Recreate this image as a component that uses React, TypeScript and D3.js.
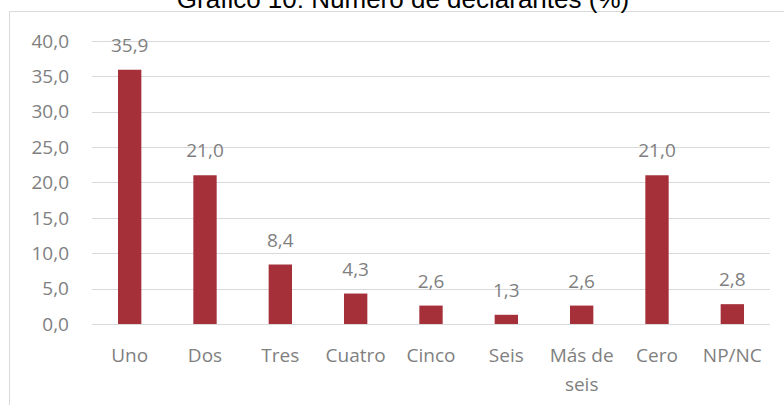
import React from "react";
import * as d3 from "d3";

const categories = ["Uno", "Dos", "Tres", "Cuatro", "Cinco", "Seis", "Más de seis", "Cero", "NP/NC"];
const values = [35.9, 21.0, 8.4, 4.3, 2.6, 1.3, 2.6, 21.0, 2.8];
const yTicks = [0, 5, 10, 15, 20, 25, 30, 35, 40];
const title = "Gráfico 10: Número de declarantes (%)";

const W = 784;
const H = 405;
const fontFamily = "'Open Sans', sans-serif";
const textColor = "#7f7f7f";
const gridColor = "#d9d9d9";
const barColor = "#a5303a";

const fmt = (v: number) => v.toFixed(1).replace(".", ",");

function wrapLabel(label: string): string[] {
  if (label === "Más de seis") return ["Más de", "seis"];
  return [label];
}

export default function App() {
  const x = d3
    .scaleBand<string>()
    .domain(categories)
    .range([92, 770])
    .paddingInner(0.69)
    .paddingOuter(0.345);
  const y = d3.scaleLinear().domain([0, 40]).range([324, 40.7]);

  return (
    <svg
      width={W}
      height={H}
      style={{ position: "absolute", left: 0, top: 0, background: "#fff" }}
    >
      <rect x={0} y={0} width={W} height={H} fill="#fff" />
      {/* frame */}
      <line x1={9.5} x2={W} y1={11.5} y2={11.5} stroke={gridColor} strokeWidth={1} />
      <line x1={9.5} x2={9.5} y1={11.5} y2={H} stroke={gridColor} strokeWidth={1} />
      {/* title */}
      <text
        x={403}
        y={7.5}
        textAnchor="middle"
        fontFamily="'Liberation Sans', Arial, sans-serif"
        fontSize={26}
        fill="#000"
      >
        {title}
      </text>
      {/* gridlines */}
      {yTicks.map((t) => (
        <line
          key={"g" + t}
          x1={92}
          x2={770}
          y1={Math.round(y(t)) + 0.5}
          y2={Math.round(y(t)) + 0.5}
          stroke={gridColor}
          strokeWidth={1}
        />
      ))}
      {/* y tick labels */}
      {yTicks.map((t) => (
        <text
          key={"t" + t}
          x={69}
          y={y(t)}
          dy="0.36em"
          textAnchor="end"
          fontFamily={fontFamily}
          fontSize={19}
          fill={textColor}
        >
          {fmt(t)}
        </text>
      ))}
      {/* bars */}
      {categories.map((c, i) => (
        <rect
          key={"b" + c}
          x={x(c)!}
          y={y(values[i])}
          width={x.bandwidth()}
          height={y(0) - y(values[i])}
          fill={barColor}
        />
      ))}
      {/* data labels */}
      {categories.map((c, i) => (
        <text
          key={"v" + c}
          x={x(c)! + x.bandwidth() / 2}
          y={y(values[i]) - 18}
          textAnchor="middle"
          fontFamily={fontFamily}
          fontSize={19}
          fill={textColor}
        >
          {fmt(values[i])}
        </text>
      ))}
      {/* category labels */}
      {categories.map((c) => (
        <text
          key={"c" + c}
          x={x(c)! + x.bandwidth() / 2}
          y={362}
          textAnchor="middle"
          fontFamily={fontFamily}
          fontSize={19}
          fill={textColor}
        >
          {wrapLabel(c).map((line, j) => (
            <tspan key={j} x={x(c)! + x.bandwidth() / 2} y={362 + j * 29}>
              {line}
            </tspan>
          ))}
        </text>
      ))}
    </svg>
  );
}
